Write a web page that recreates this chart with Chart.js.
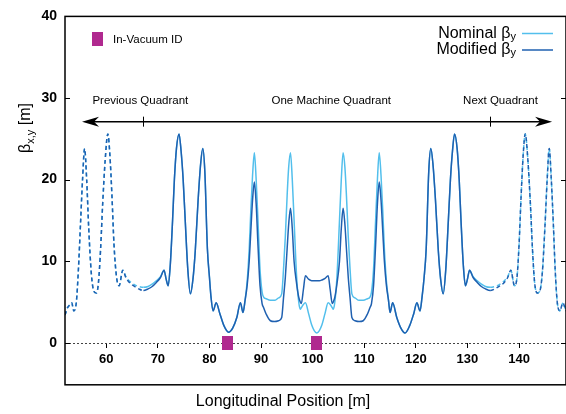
<!DOCTYPE html>
<html>
<head>
<meta charset="utf-8">
<script src="https://cdn.jsdelivr.net/npm/chart.js@4.4.1/dist/chart.umd.min.js"></script>
<style>
  html, body { margin: 0; padding: 0; background: #fff; }
</style>
</head>
<body>
<canvas id="betaChart" width="566" height="414"></canvas>
<script>
// longitudinal position [m]
const sPos = [
  52.0, 52.5, 53.0, 53.3, 53.7, 54.2, 54.6, 55.0, 55.4, 55.8,
  56.2, 56.6, 57.1, 57.6, 58.1, 58.5, 58.9, 59.3, 59.8, 60.3,
  60.7, 61.1, 61.5, 62.0, 62.5, 63.2, 63.8, 64.6, 65.5, 66.3,
  67.2, 68.1, 68.9, 69.7, 70.5, 71.2, 71.6, 72.0, 72.4, 72.85,
  73.2, 73.6, 74.1, 74.5, 74.9, 75.3, 75.8, 76.3, 76.8, 77.25,
  77.8, 78.3, 78.7, 79.1, 79.6, 80.0, 80.3, 80.7, 81.3, 82.0,
  82.8, 83.7, 84.5, 85.3, 86.0, 86.5, 86.9, 87.3, 87.7, 88.0,
  88.35, 88.7, 89.05, 89.4, 89.8, 90.2, 90.5, 91.0, 91.8, 92.6,
  93.4, 94.0, 94.35, 94.7, 95.05, 95.35, 95.7, 96.05, 96.4, 96.9,
  97.3, 97.6, 97.8, 98.2, 98.6, 99.2, 99.8, 100.3, 100.8, 101.3,
  101.8, 102.4, 103.0, 103.4, 103.8, 104.0, 104.3, 104.7, 105.2, 105.55,
  105.9, 106.25, 106.55, 106.9, 107.25, 107.6, 108.2, 109.0, 109.8, 110.6,
  111.1, 111.4, 111.8, 112.2, 112.55, 112.9, 113.25, 113.6, 113.9, 114.3,
  114.7, 115.0, 115.5, 116.3, 117.1, 117.9, 118.8, 119.6, 120.2, 120.8,
  121.2, 121.6, 122.0, 122.5, 122.9, 123.3, 123.8, 124.35, 124.8, 125.3,
  125.8, 126.3, 126.7, 127.1, 127.5, 128.0, 128.4, 128.75, 129.2, 129.6,
  130.0, 130.4, 131.1, 131.9, 132.7, 133.5, 134.4, 135.3, 136.1, 137.0,
  137.8, 138.4, 139.1, 139.6, 140.0, 140.4, 140.8, 141.2, 141.7, 142.2,
  142.6, 143.0, 143.5, 144.0, 144.5, 145.0, 145.45, 145.85, 146.25, 146.65,
  147.0, 147.4, 147.9, 148.5, 148.9, 149.3
];

// nominal beta_y [m]
const betaNominal = [
  3.4, 4.3, 4.7, 4.9, 3.9, 5.0, 9.0, 14.5, 20.0, 23.8,
  20.0, 14.0, 8.5, 6.3, 6.1, 7.5, 11.5, 17.0, 22.5, 25.6,
  23.0, 18.0, 12.0, 8.0, 7.0, 8.9, 8.1, 7.5, 7.1, 6.9,
  6.8, 6.9, 7.2, 7.6, 8.1, 8.9, 7.8, 7.0, 9.5, 15.0,
  20.0, 23.8, 25.6, 23.5, 20.0, 15.0, 9.0, 6.0, 7.8, 11.3,
  17.5, 22.0, 23.8, 21.0, 11.5, 8.0, 5.6, 3.9, 4.9, 3.6,
  2.1, 1.3, 1.8, 3.1, 4.9, 3.7, 5.2, 7.5, 11.5, 16.0,
  20.5, 23.3, 20.0, 15.0, 9.0, 6.2, 5.6, 5.4, 5.2, 5.2,
  5.5, 6.0, 9.0, 13.0, 18.0, 21.5, 23.3, 20.0, 15.0, 8.0,
  5.0, 4.1, 4.3, 4.7, 4.9, 3.6, 2.2, 1.5, 1.2, 1.5,
  2.2, 3.6, 4.9, 4.7, 4.3, 4.1, 5.0, 8.0, 15.0, 20.0,
  23.3, 21.5, 18.0, 13.0, 9.0, 6.0, 5.5, 5.2, 5.2, 5.4,
  5.6, 6.2, 9.0, 15.0, 20.0, 23.3, 20.5, 16.0, 11.5, 7.5,
  5.2, 3.7, 4.9, 3.1, 1.8, 1.2, 2.1, 3.6, 4.9, 3.9,
  5.6, 8.0, 11.5, 21.0, 23.8, 22.0, 17.5, 11.3, 7.8, 6.0,
  9.0, 15.0, 20.0, 23.5, 25.6, 23.8, 20.0, 15.0, 9.5, 7.0,
  7.8, 8.9, 8.1, 7.6, 7.2, 6.9, 6.8, 6.9, 7.1, 7.5,
  8.1, 8.9, 7.0, 8.0, 12.0, 18.0, 23.0, 25.6, 22.5, 17.0,
  11.5, 7.5, 6.1, 6.3, 8.5, 14.0, 20.0, 23.8, 20.0, 14.5,
  9.0, 5.0, 3.9, 4.9, 4.3, 3.7
];

// modified beta_y [m]
const betaModified = [
  3.4, 4.3, 4.7, 4.9, 3.9, 5.0, 9.0, 14.5, 20.0, 23.8,
  20.0, 14.0, 8.5, 6.3, 6.1, 7.5, 11.5, 17.0, 22.5, 25.6,
  23.0, 18.0, 12.0, 8.0, 7.0, 8.9, 8.0, 7.3, 6.9, 6.6,
  6.4, 6.6, 6.9, 7.4, 8.0, 8.9, 7.8, 7.0, 9.5, 15.0,
  20.0, 23.8, 25.6, 23.5, 20.0, 15.0, 9.0, 6.0, 7.8, 11.3,
  17.5, 22.0, 23.8, 21.0, 11.5, 8.0, 5.6, 3.9, 4.9, 3.6,
  2.1, 1.3, 1.8, 3.1, 4.9, 3.7, 5.2, 7.0, 10.0, 13.5,
  17.5, 19.7, 17.0, 12.0, 7.0, 4.8, 4.3, 3.5, 2.7, 2.6,
  2.7, 3.1, 5.5, 8.0, 11.5, 14.5, 16.5, 14.0, 10.0, 7.2,
  5.6, 5.0, 4.8, 6.5, 8.2, 7.8, 7.6, 7.6, 7.6, 7.6,
  7.7, 7.9, 8.2, 6.5, 4.8, 5.0, 5.6, 7.2, 10.0, 14.0,
  16.5, 14.5, 11.5, 8.0, 5.5, 3.1, 2.7, 2.6, 2.7, 3.5,
  4.3, 4.8, 7.0, 12.0, 17.0, 19.7, 17.5, 13.5, 10.0, 7.0,
  5.2, 3.7, 4.9, 3.1, 1.8, 1.2, 2.1, 3.6, 4.9, 3.9,
  5.6, 8.0, 11.5, 21.0, 23.8, 22.0, 17.5, 11.3, 7.8, 6.0,
  9.0, 15.0, 20.0, 23.5, 25.6, 23.8, 20.0, 15.0, 9.5, 7.0,
  7.8, 8.9, 8.0, 7.4, 6.9, 6.6, 6.4, 6.6, 6.9, 7.3,
  8.0, 8.9, 7.0, 8.0, 12.0, 18.0, 23.0, 25.6, 22.5, 17.0,
  11.5, 7.5, 6.1, 6.3, 8.5, 14.0, 20.0, 23.8, 20.0, 14.5,
  9.0, 5.0, 3.9, 4.9, 4.3, 3.7
];

const idPos = [83.5, 100.8];           // in-vacuum insertion devices
const quadBounds = [67.2, 134.4];      // one machine quadrant
const xTicks = [60, 70, 80, 90, 100, 110, 120, 130, 140];
const yTicks = [0, 10, 20, 30, 40];

const FONT = "'Liberation Sans', Arial, Helvetica, sans-serif";
const NOM_COLOR = '#52bfec';
const MOD_COLOR = '#1f60b0';
const ID_COLOR = '#b0298f';

// dashed outside the machine quadrant
function dashOutside(c) {
  const a = c.p0.parsed.x, b = c.p1.parsed.x;
  return (b <= quadBounds[0] + 1e-6 || a >= quadBounds[1] - 1e-6) ? [4, 3] : undefined;
}

// text made of parts (for subscripts); align 'left' | 'right' | 'center'
function drawParts(ctx, parts, x, y, align) {
  let total = 0;
  parts.forEach(p => { ctx.font = p.font; p.w = ctx.measureText(p.t).width; total += p.w; });
  let cx = align === 'right' ? x - total : align === 'center' ? x - total / 2 : x;
  ctx.textAlign = 'left';
  ctx.textBaseline = 'alphabetic';
  parts.forEach(p => {
    ctx.font = p.font;
    ctx.fillText(p.t, cx, y + (p.dy || 0));
    cx += p.w;
  });
}

function hline(ctx, x1, x2, y) {
  ctx.beginPath(); ctx.moveTo(x1, y); ctx.lineTo(x2, y); ctx.stroke();
}
function vline(ctx, x, y1, y2) {
  ctx.beginPath(); ctx.moveTo(x, y1); ctx.lineTo(x, y2); ctx.stroke();
}

const decor = {
  id: 'decor',
  beforeDatasetsDraw(chart) {
    const { ctx, chartArea: ca, scales: { y } } = chart;
    const y0 = Math.round(y.getPixelForValue(0)) + 0.5;
    ctx.save();
    ctx.strokeStyle = '#444';
    ctx.lineWidth = 1;
    ctx.setLineDash([2, 2]);
    hline(ctx, ca.left, ca.right, y0);
    ctx.restore();
  },
  afterDatasetsDraw(chart) {
    const { ctx, chartArea: ca, scales: { x, y } } = chart;
    ctx.save();

    // ID markers on the axis
    const y0 = y.getPixelForValue(0);
    ctx.fillStyle = ID_COLOR;
    idPos.forEach(p => {
      const px = x.getPixelForValue(p);
      ctx.fillRect(Math.round(px - 5.5), Math.round(y0 - 7), 11, 14);
    });

    // frame + inward y ticks
    ctx.strokeStyle = '#000';
    ctx.lineWidth = 1.5;
    ctx.strokeRect(ca.left, ca.top, ca.right - ca.left, ca.bottom - ca.top);
    ctx.lineWidth = 1;
    yTicks.forEach(v => {
      const py = Math.round(y.getPixelForValue(v)) + 0.5;
      hline(ctx, ca.left, ca.left + 5, py);
      hline(ctx, ca.right - 5, ca.right, py);
    });

    // quadrant arrow
    const ya = y.getPixelForValue(27.1);
    const xl = x.getPixelForValue(55.3), xr = x.getPixelForValue(146.4);
    ctx.lineWidth = 1.5;
    hline(ctx, xl + 8, xr - 8, ya);
    ctx.fillStyle = '#000';
    ctx.beginPath();
    ctx.moveTo(xl, ya); ctx.lineTo(xl + 17, ya - 5); ctx.lineTo(xl + 12, ya); ctx.lineTo(xl + 17, ya + 5);
    ctx.closePath(); ctx.fill();
    ctx.beginPath();
    ctx.moveTo(xr, ya); ctx.lineTo(xr - 17, ya - 5); ctx.lineTo(xr - 12, ya); ctx.lineTo(xr - 17, ya + 5);
    ctx.closePath(); ctx.fill();
    ctx.lineWidth = 1;
    quadBounds.forEach(q => {
      const qx = Math.round(x.getPixelForValue(q)) + 0.5;
      vline(ctx, qx, ya - 5, ya + 5);
    });

    ctx.font = '11.5px ' + FONT;
    ctx.textAlign = 'center';
    ctx.textBaseline = 'middle';
    const yt = y.getPixelForValue(29.6);
    ctx.fillText('Previous Quadrant', x.getPixelForValue(66.6), yt);
    ctx.fillText('One Machine Quadrant', x.getPixelForValue(103.6), yt);
    ctx.fillText('Next Quadrant', x.getPixelForValue(136.4), yt);

    // ID key
    ctx.fillStyle = ID_COLOR;
    ctx.fillRect(92, 32, 11, 14);
    ctx.fillStyle = '#000';
    ctx.font = '11.5px ' + FONT;
    ctx.textAlign = 'left';
    ctx.textBaseline = 'alphabetic';
    ctx.fillText('In-Vacuum ID', 113, 43);

    // series key
    const big = '16px ' + FONT, small = '11px ' + FONT;
    drawParts(ctx, [{ t: 'Nominal \u03b2', font: big }, { t: 'y', font: small, dy: 2 }], 516, 38, 'right');
    drawParts(ctx, [{ t: 'Modified \u03b2', font: big }, { t: 'y', font: small, dy: 2 }], 516, 54, 'right');
    ctx.lineWidth = 1.5;
    ctx.strokeStyle = NOM_COLOR;
    hline(ctx, 522, 553, 33.5);
    ctx.strokeStyle = MOD_COLOR;
    hline(ctx, 522, 553, 50);

    // y axis title
    ctx.fillStyle = '#000';
    ctx.translate(30, 128);
    ctx.rotate(-Math.PI / 2);
    drawParts(ctx, [
      { t: '\u03b2', font: '16px ' + FONT },
      { t: 'x,y', font: '11px ' + FONT, dy: 3.5 },
      { t: ' [m]', font: '16px ' + FONT }
    ], 0, 0, 'center');
    ctx.restore();
  }
};

const ctx = document.getElementById('betaChart');

new Chart(ctx, {
  type: 'line',
  data: {
    datasets: [
      {
        label: 'Modified',
        data: sPos.map((s, i) => ({ x: s, y: betaModified[i] })),
        borderColor: MOD_COLOR,
        borderWidth: 1.5,
        pointRadius: 0,
        cubicInterpolationMode: 'monotone',
        segment: { borderDash: dashOutside },
        order: 0
      },
      {
        label: 'Nominal',
        data: sPos.map((s, i) => ({ x: s, y: betaNominal[i] })),
        borderColor: NOM_COLOR,
        borderWidth: 1.5,
        pointRadius: 0,
        cubicInterpolationMode: 'monotone',
        segment: { borderDash: dashOutside },
        order: 1
      }
    ]
  },
  options: {
    responsive: false,
    animation: false,
    devicePixelRatio: 1,
    layout: { padding: { top: 16, right: 0, bottom: 0, left: 0 } },
    plugins: {
      legend: { display: false },
      tooltip: { enabled: false },
      title: {
        display: true,
        position: 'bottom',
        text: 'Longitudinal Position [m]',
        color: '#000',
        font: { family: FONT, size: 16, weight: 'normal' },
        padding: { top: 7, bottom: 3 }
      }
    },
    scales: {
      x: {
        type: 'linear',
        min: 52,
        max: 149.1,
        position: { y: 0 },
        afterBuildTicks: s => { s.ticks = xTicks.map(v => ({ value: v })); },
        ticks: {
          color: '#000',
          font: { family: FONT, size: 13, weight: 'bold' },
          padding: 4,
          maxRotation: 0
        },
        grid: { drawOnChartArea: false, drawTicks: true, tickLength: 5, tickColor: '#000', tickWidth: 1 },
        border: { display: false }
      },
      y: {
        type: 'linear',
        min: -5.15,
        max: 40,
        afterBuildTicks: s => { s.ticks = yTicks.map(v => ({ value: v })); },
        afterFit: s => { s.width = 65; },
        ticks: {
          color: '#000',
          font: { family: FONT, size: 14, weight: 'bold' },
          padding: 8
        },
        grid: { drawOnChartArea: false, drawTicks: false },
        border: { display: false }
      }
    }
  },
  plugins: [decor]
});
</script>
</body>
</html>
